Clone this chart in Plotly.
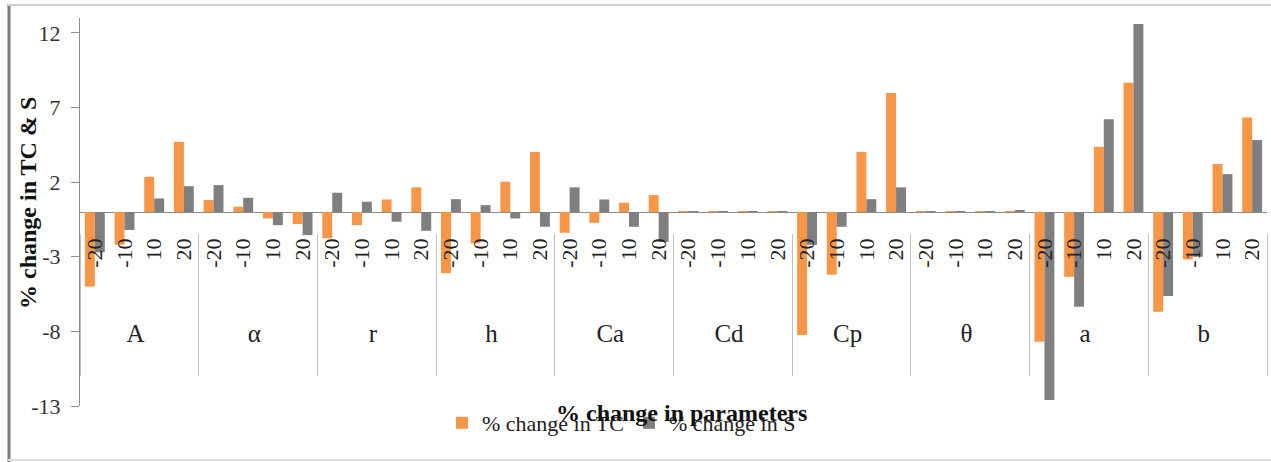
import plotly.graph_objects as go

params = ["A", "α", "r", "h", "Ca", "Cd", "Cp", "θ", "a", "b"]
levels = ["-20", "-10", "10", "20"]

tc_change = [
    -5.0, -2.2, 2.36, 4.7,      # A
    0.8, 0.35, -0.43, -0.81,    # alpha
    -1.76, -0.88, 0.84, 1.65,   # r
    -4.1, -2.1, 2.03, 4.03,     # h
    -1.39, -0.72, 0.62, 1.13,   # Ca
    0.06, 0.06, 0.06, 0.06,     # Cd
    -8.25, -4.2, 4.03, 7.98,    # Cp
    0.06, 0.06, 0.06, 0.06,     # theta
    -8.69, -4.34, 4.37, 8.66,   # a
    -6.68, -3.18, 3.21, 6.34,   # b
]
s_change = [
    -2.7, -1.2, 0.91, 1.73,
    1.8, 0.95, -0.88, -1.55,
    1.29, 0.69, -0.65, -1.26,
    0.86, 0.46, -0.43, -0.99,
    1.65, 0.84, -0.99, -2.0,
    0.06, 0.06, 0.06, 0.06,
    -2.2, -0.99, 0.86, 1.65,
    0.06, 0.06, 0.06, 0.1,
    -12.6, -6.35, 6.22, 12.59,
    -5.63, -3.0, 2.54, 4.82,
]
y_ticks = [-13, -8, -3, 2, 7, 12]

NB = "\u00a0"
# padding so the parameter names sit lower, as in the reference
level_labels = [NB * 6 + l for l in levels]
param_labels = ['<span style="font-size:25px">' + p + "</span><br>" + NB for p in params]

x = [[p for p in param_labels for _ in levels], [l for _ in params for l in level_labels]]

SERIF = "Liberation Serif, Times New Roman, serif"
ORANGE = "#F79646"
GRAY = "#7F7F7F"

fig = go.Figure()
fig.add_trace(go.Bar(x=x, y=tc_change, name="% change in TC", marker=dict(color=ORANGE, line=dict(width=0))))
fig.add_trace(go.Bar(x=x, y=s_change, name="% change in S", marker=dict(color=GRAY, line=dict(width=0))))

fig.update_layout(
    width=1271, height=462,
    margin=dict(l=80, r=4, t=18, b=56, autoexpand=False),
    plot_bgcolor="white", paper_bgcolor="white",
    barmode="group", bargap=0.33, bargroupgap=0,
    font=dict(family=SERIF, size=22, color="black"),
    showlegend=True,
    legend=dict(orientation="h", xref="container", yref="container",
                x=442 / 1271, xanchor="left", y=1 - 423 / 462, yanchor="middle",
                bgcolor="rgba(0,0,0,0)", font=dict(family=SERIF, size=22, color="#222"),
                itemwidth=30, tracegroupgap=0),
    xaxis=dict(
        type="multicategory", anchor="free", position=(406 - 233) / 388, automargin=False,
        range=[-0.5, 39.5],
        showline=False,
        showdividers=True, dividercolor="#BFBFBF", dividerwidth=1,
        tickangle=-90, ticks="", showgrid=False,
        tickfont=dict(family=SERIF, size=22, color="#222"),
    ),
    yaxis=dict(
        range=[-13, 13], tickvals=y_ticks, ticktext=[str(v) for v in y_ticks],
        automargin=False,
        showline=True, linecolor="#8C8C8C", linewidth=1,
        ticks="outside", ticklen=8, tickcolor="#8C8C8C", ticklabelstandoff=6,
        showgrid=False, zeroline=True, zerolinecolor="#8C8C8C", zerolinewidth=1,
        tickfont=dict(family=SERIF, size=22, color="#333"),
    ),
    annotations=[
        dict(text="<b>% change in parameters</b>", xref="paper", yref="paper",
             x=0.507, y=(406 - 413) / 388, xanchor="center", yanchor="middle", showarrow=False,
             font=dict(family=SERIF, size=24, color="#111")),
        dict(text="<b>% change in TC & S</b>", xref="paper", yref="paper", textangle=-90,
             x=(28 - 80) / 1187, y=(406 - 203) / 388, xanchor="center", yanchor="middle", showarrow=False,
             font=dict(family=SERIF, size=24, color="#111")),
    ],
    shapes=[
        dict(type="line", xref="paper", yref="paper", x0=(9 - 80) / 1187, x1=(9 - 80) / 1187,
             y0=(406 - 462) / 388, y1=(406 - 4) / 388,
             line=dict(color="#7A7A7A", width=3)),
        dict(type="line", xref="paper", yref="paper", x0=(8 - 80) / 1187, x1=1.01,
             y0=(406 - 5) / 388, y1=(406 - 5) / 388,
             line=dict(color="#CFCFCF", width=2)),
        dict(type="line", xref="paper", yref="paper", x0=(8 - 80) / 1187, x1=1.01,
             y0=(406 - 460) / 388, y1=(406 - 460) / 388,
             line=dict(color="#DDDDDD", width=2)),
    ],
)

fig.write_html("out.html", config={"displayModeBar": False},
               post_script="document.body.style.margin='0px';")
